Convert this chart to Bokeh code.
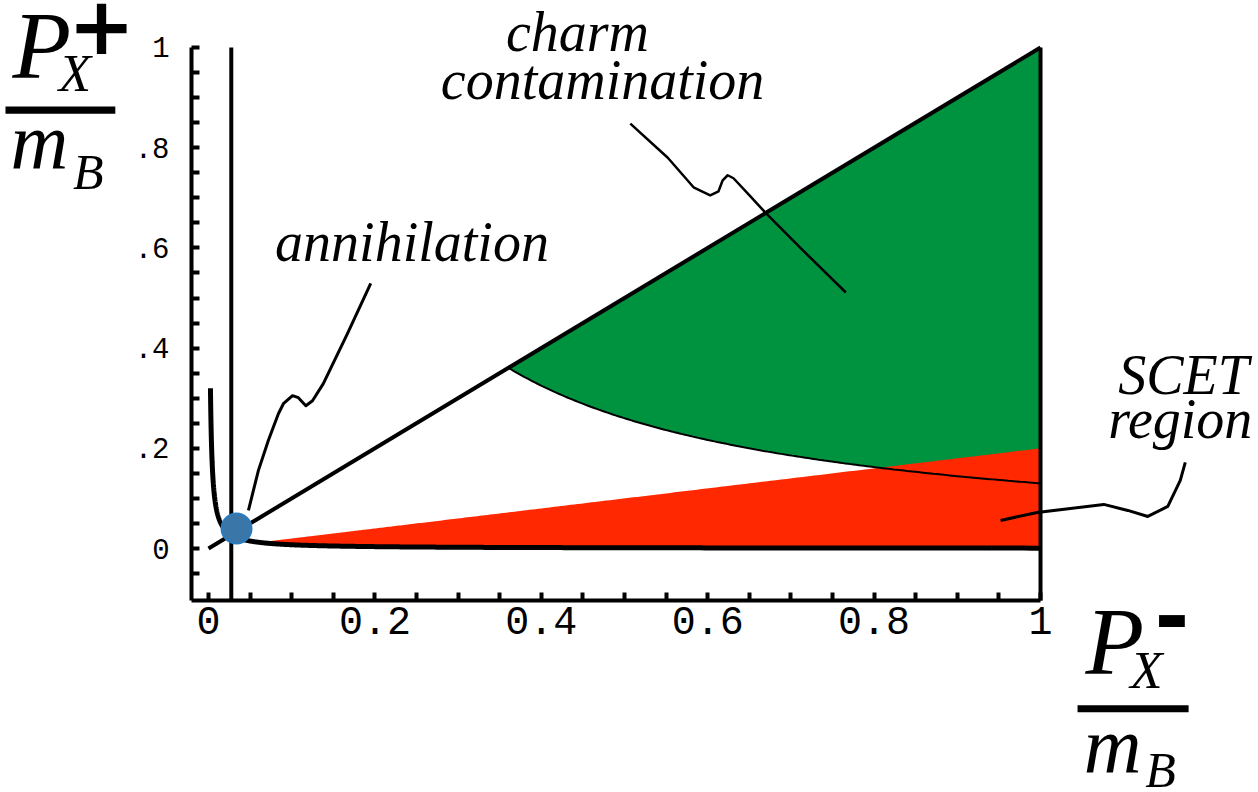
import numpy as np
from bokeh.plotting import figure
from bokeh.models import (Range1d, FixedTicker, Label, BoxAnnotation)
from bokeh.embed import file_html
from bokeh.resources import INLINE

# ---------------- data ----------------
x_ticks = [round(0.05 * i, 2) for i in range(21)]
y_ticks = [round(-0.05 + 0.05 * i, 2) for i in range(22)]
x_tick_labels = {0: "0", 0.2: "0.2", 0.4: "0.4", 0.6: "0.6", 0.8: "0.8", 1: "1"}
y_tick_labels = {0: "0", 0.2: ".2", 0.4: ".4", 0.6: ".6", 0.8: ".8", 1: "1"}

c_light = 0.00075      # P+ P- = const (light hadron threshold), thick curve
c_charm = 0.13         # P+ P- = (m_D/m_B)^2, charm boundary
scet_slope = 0.2       # SCET region upper edge  P+ = 0.2 P-
annih_point = (0.0337, 0.040)

charm_leader_x = [0.507, 0.552, 0.583, 0.603, 0.613, 0.618, 0.624, 0.631, 0.648, 0.669, 0.712, 0.766]
charm_leader_y = [0.848, 0.780, 0.721, 0.705, 0.713, 0.735, 0.745, 0.739, 0.709, 0.671, 0.599, 0.511]
annih_leader_x = [0.195, 0.167, 0.138, 0.125, 0.117, 0.108, 0.101, 0.090, 0.084, 0.072, 0.060, 0.048]
annih_leader_y = [0.529, 0.429, 0.329, 0.295, 0.285, 0.301, 0.305, 0.289, 0.269, 0.216, 0.156, 0.076]
scet_leader_x = [0.952, 0.996, 1.036, 1.076, 1.105, 1.129, 1.153, 1.168, 1.174]
scet_leader_y = [0.056, 0.072, 0.080, 0.088, 0.076, 0.064, 0.084, 0.136, 0.172]

X_LO, Y_LO = -0.0204, -0.1038   # where the axes sit
GREEN = "#00933F"
RED = "#FF2800"

# ---------------- figure ----------------
p = figure(width=1258, height=792, output_backend="svg", toolbar_location=None,
           x_range=Range1d(-0.25, 1.262), y_range=Range1d(-0.487, 1.0938),
           min_border_left=0, min_border_right=0, min_border_top=0, min_border_bottom=0)
p.grid.visible = False
p.outline_line_color = None
p.background_fill_color = "white"
p.border_fill_color = "white"

p.xaxis[0].fixed_location = Y_LO
p.yaxis[0].fixed_location = X_LO

for ax, ticks, labels, bounds in ((p.xaxis[0], x_ticks, x_tick_labels, (X_LO, 1.0)),
                                  (p.yaxis[0], y_ticks, y_tick_labels, (Y_LO, 1.0))):
    ax.ticker = FixedTicker(ticks=ticks)
    ax.major_label_overrides = {t: labels.get(t, "") for t in ticks}
    ax.bounds = bounds
    ax.axis_line_width = 4
    ax.axis_line_color = "black"
    ax.major_tick_line_width = 4
    ax.major_tick_line_color = "black"
    ax.major_tick_in = 8
    ax.major_tick_out = 0
    ax.minor_tick_line_color = None
    ax.major_label_text_font = "Liberation Mono"
    ax.major_label_text_color = "black"

p.xaxis[0].major_label_text_font_size = "40px"
p.xaxis[0].major_label_standoff = 6
p.yaxis[0].major_label_text_font_size = "29px"
p.yaxis[0].major_label_standoff = 22

# ---------------- regions ----------------
x0c = np.sqrt(c_charm)
xg = np.linspace(x0c, 1.0, 200)
p.patch(np.concatenate([xg, xg[::-1]]), np.concatenate([c_charm / xg, xg[::-1]]),
        fill_color=GREEN, line_color=None)

x0s = np.sqrt(c_light / scet_slope)
xr = np.geomspace(x0s, 1.0, 300)
p.patch(np.concatenate([xr, xr[::-1]]), np.concatenate([c_light / xr, scet_slope * xr[::-1]]),
        fill_color=RED, line_color=None)

# charm boundary (thin)
p.line(xg, c_charm / xg, line_color="black", line_width=2)

# diagonal P+ = P-
p.line([0, 1], [0, 1], line_color="black", line_width=4)
# vertical lines
xv = np.sqrt(c_light)
p.line([xv, xv], [Y_LO, 1.0], line_color="black", line_width=4)
p.line([1.0, 1.0], [Y_LO, 1.0], line_color="black", line_width=4)

# light threshold hyperbola (thick)
xh = np.geomspace(c_light / 0.32, 1.0, 600)
p.line(xh, c_light / xh, line_color="black", line_width=5)

# annihilation point
p.scatter([annih_point[0]], [annih_point[1]], size=30, fill_color="#3B76A9",
          line_color="#2B7BBF", line_width=2)

# leaders
p.line(charm_leader_x, charm_leader_y, line_color="black", line_width=2.5, line_join="round")
p.line(annih_leader_x, annih_leader_y, line_color="black", line_width=3, line_join="round")
p.line(scet_leader_x, scet_leader_y, line_color="black", line_width=3, line_join="round")

# ---------------- text ----------------
def lab(x, y, t, size, style="italic", align="center", baseline="alphabetic", font="Liberation Serif"):
    p.add_layout(Label(x=x, y=y, text=t, text_font=font, text_font_size=size,
                       text_font_style=style, text_align=align, text_baseline=baseline,
                       text_color="black"))

lab(0.4435, 1.030, "charm", "56px")
lab(0.4736, 0.936, "contamination", "56px")
lab(0.2446, 0.611, "annihilation", "56px")
lab(1.172, 0.347, "SCET", "56px")
lab(1.168, 0.2575, "region", "56px")

# axis title P+/mB (top-left)
lab(-0.2356, 1.003, "P", "96px", align="left")
lab(-0.180, 0.950, "X", "53px", align="left")
lab(-0.1286, 1.046, "+", "80px", style="bold", baseline="middle", font="DejaVu Sans")
p.add_layout(BoxAnnotation(left=-0.244, right=-0.112, bottom=0.868, top=0.882,
                           fill_color="black", fill_alpha=1, line_color=None))
lab(-0.238, 0.814, "m", "80px", align="left")
lab(-0.163, 0.752, "B", "50px", align="left")

# axis title P-/mB (bottom-right)
lab(1.054, -0.186, "P", "96px", align="left")
lab(1.108, -0.243, "X", "53px", align="left")
lab(1.158, -0.130, "-", "84px", style="bold", baseline="middle", font="DejaVu Sans")
p.add_layout(BoxAnnotation(left=1.0445, right=1.178, bottom=-0.327, top=-0.313,
                           fill_color="black", fill_alpha=1, line_color=None))
lab(1.052, -0.393, "m", "80px", align="left")
lab(1.126, -0.442, "B", "50px", align="left")

open("out.html", "w").write(file_html(p, INLINE))
